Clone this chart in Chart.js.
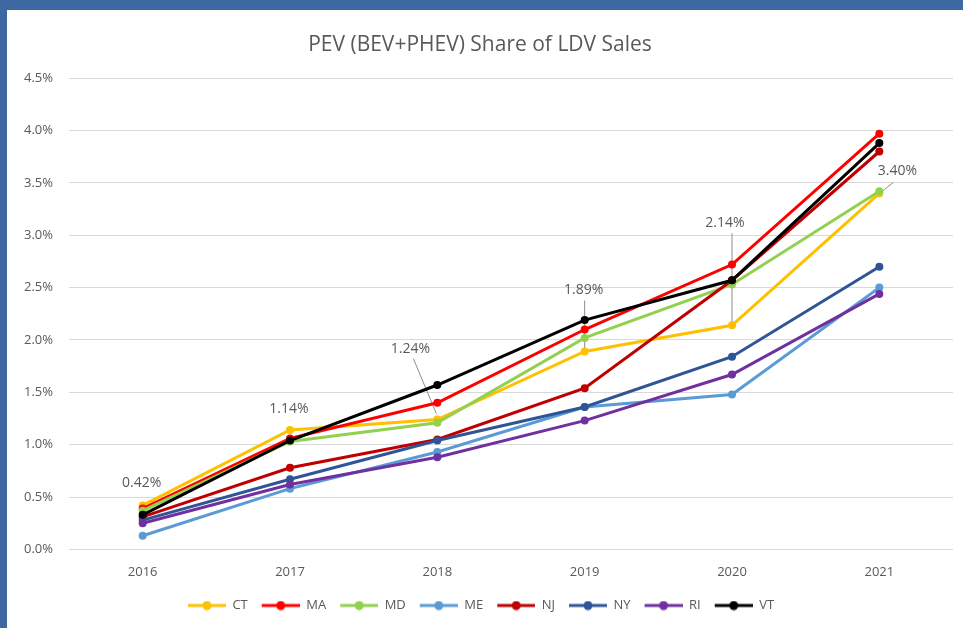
<!DOCTYPE html>
<html>
<head>
<meta charset="utf-8">
<script src="https://cdn.jsdelivr.net/npm/chart.js@4.4.1/dist/chart.umd.min.js"></script>
<style>
  html, body { margin: 0; padding: 0; background: #ffffff; }
  #frame {
    width: 956px; height: 618px;
    border-top: 10px solid #3e69a0;
    border-left: 7px solid #3e69a0;
    background: #ffffff;
  }
</style>
</head>
<body>
<div id="frame"><canvas id="chartContainer" width="956" height="618"></canvas></div>
<script>
// Years on the x axis
const years = ['2016', '2017', '2018', '2019', '2020', '2021'];

// PEV share of LDV sales, in percent
const ct = [0.42, 1.14, 1.24, 1.89, 2.14, 3.40];
const ma = [0.39, 1.06, 1.40, 2.10, 2.72, 3.97];
const md = [0.37, 1.03, 1.21, 2.02, 2.53, 3.42];
const me = [0.13, 0.58, 0.93, 1.36, 1.48, 2.50];
const nj = [0.31, 0.78, 1.05, 1.54, 2.57, 3.80];
const ny = [0.28, 0.67, 1.04, 1.36, 1.84, 2.70];
const ri = [0.25, 0.62, 0.88, 1.23, 1.67, 2.44];
const vt = [0.33, 1.04, 1.57, 2.19, 2.57, 3.88];

// Y axis ticks
const yMax = 4.5;
const yStep = 0.5;

const series = [
    { label: 'CT', data: ct, color: '#ffc000' },
    { label: 'MA', data: ma, color: '#ff0000' },
    { label: 'MD', data: md, color: '#92d050' },
    { label: 'ME', data: me, color: '#5b9bd5' },
    { label: 'NJ', data: nj, color: '#c00000' },
    { label: 'NY', data: ny, color: '#2f5597' },
    { label: 'RI', data: ri, color: '#7030a0' },
    { label: 'VT', data: vt, color: '#000000' }
];

const textColor = '#595959';
const fontFamily = "'Open Sans', 'Liberation Sans', sans-serif";

// Legend symbol: short line with a dot in the middle
function legendSymbol(color) {
    const c = document.createElement('canvas');
    c.width = 40;
    c.height = 10;
    const g = c.getContext('2d');
    g.strokeStyle = color;
    g.lineWidth = 3;
    g.beginPath();
    g.moveTo(2, 5);
    g.lineTo(40, 5);
    g.stroke();
    g.fillStyle = color;
    g.beginPath();
    g.arc(21, 5, 4.5, 0, Math.PI * 2);
    g.fill();
    return c;
}

// Label offsets for the CT data labels (relative to the point)
const labelOffsets = [
    { dx: -1, dy: -22 },
    { dx: -1, dy: -21 },
    { dx: -27, dy: -71, leader: true },
    { dx: -1, dy: -61, leader: true },
    { dx: -7, dy: -102, leader: true },
    { dx: 18, dy: -22, leader: true }
];

const ctLabelsPlugin = {
    id: 'ctLabels',
    beforeDatasetsDraw(chart) {
        // leader lines sit behind the series lines
        const meta = chart.getDatasetMeta(0);
        const ctx = chart.ctx;
        ctx.save();
        ctx.strokeStyle = '#8c8c8c';
        ctx.lineWidth = 1;
        meta.data.forEach((pt, i) => {
            const o = labelOffsets[i];
            if (!o.leader) return;
            const lx = pt.x + o.dx;
            const ly = pt.y + o.dy + 10;
            ctx.beginPath();
            if (Math.abs(o.dx) < 10) {
                ctx.moveTo(pt.x, ly);
                ctx.lineTo(pt.x, pt.y - 2);
            } else if (o.dx > 0) {
                ctx.moveTo(lx - 4, pt.y + o.dy + 11);
                ctx.lineTo(pt.x + 4, pt.y - 3);
            } else {
                ctx.moveTo(lx + 3, ly);
                ctx.lineTo(pt.x - 1, pt.y - 6);
            }
            ctx.stroke();
        });
        ctx.restore();
    },
    afterDatasetsDraw(chart) {
        const meta = chart.getDatasetMeta(0);
        const ctx = chart.ctx;
        ctx.save();
        ctx.font = '14px ' + fontFamily;
        ctx.fillStyle = textColor;
        ctx.textAlign = 'center';
        ctx.textBaseline = 'middle';
        meta.data.forEach((pt, i) => {
            const o = labelOffsets[i];
            ctx.fillText(ct[i].toFixed(2) + '%', pt.x + o.dx, pt.y + o.dy);
        });
        ctx.restore();
    }
};

const ctx = document.getElementById('chartContainer').getContext('2d');
new Chart(ctx, {
    type: 'line',
    data: {
        labels: years,
        datasets: series.map((s, i) => ({
            label: s.label,
            data: s.data,
            borderColor: s.color,
            backgroundColor: s.color,
            borderWidth: 3,
            pointRadius: 4,
            pointStyle: 'circle',
            pointBackgroundColor: s.color,
            pointBorderWidth: 0,
            tension: 0,
            order: series.length - i
        }))
    },
    options: {
        responsive: false,
        animation: false,
        layout: { padding: { top: 0, right: 10, bottom: 6, left: 0 } },
        plugins: {
            title: {
                display: true,
                text: 'PEV (BEV+PHEV) Share of LDV Sales',
                color: textColor,
                font: { family: fontFamily, size: 21, weight: 'normal' },
                padding: { top: 22, bottom: 21 }
            },
            legend: {
                position: 'bottom',
                labels: {
                    color: textColor,
                    font: { family: fontFamily, size: 13 },
                    usePointStyle: true,
                    pointStyleWidth: 40,
                    padding: 12,
                    generateLabels(chart) {
                        return chart.data.datasets.map((d, i) => ({
                            text: d.label,
                            pointStyle: legendSymbol(d.borderColor),
                            fillStyle: d.borderColor,
                            strokeStyle: d.borderColor,
                            lineWidth: 0,
                            fontColor: textColor,
                            hidden: false,
                            datasetIndex: i
                        }));
                    }
                }
            },
            tooltip: { enabled: false }
        },
        scales: {
            x: {
                offset: true,
                grid: { display: false },
                border: { display: false },
                ticks: {
                    color: textColor,
                    font: { family: fontFamily, size: 13 },
                    padding: 7
                }
            },
            y: {
                min: 0,
                max: yMax,
                grid: { color: '#d9d9d9', lineWidth: 1, drawTicks: false },
                border: { display: false },
                afterFit(scale) { scale.width = 62; },
                ticks: {
                    stepSize: yStep,
                    color: textColor,
                    font: { family: fontFamily, size: 13 },
                    padding: 16,
                    callback: v => v.toFixed(1) + '%'
                }
            }
        }
    },
    plugins: [ctLabelsPlugin]
});
</script>
</body>
</html>
